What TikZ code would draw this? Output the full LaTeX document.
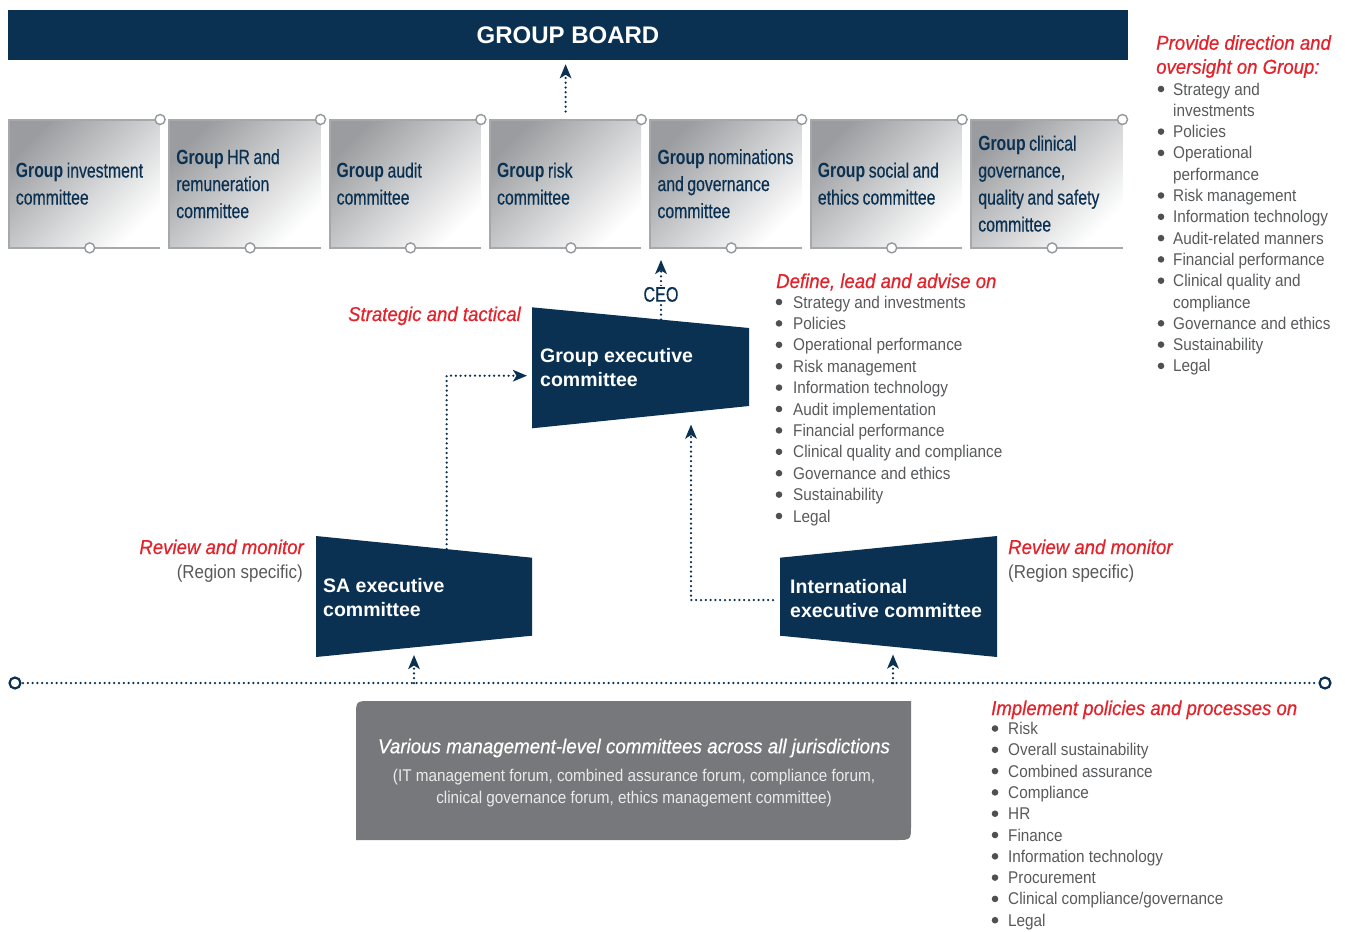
\documentclass[tikz,border=0pt]{standalone}
\usepackage{fontspec}
\setmainfont{Liberation Sans}
\newfontfamily\boxfont{Liberation Sans}[FakeStretch=0.77,WordSpace=0.8,UprightFeatures={FakeBold=0.4}]
\newfontfamily\listfont{Liberation Sans}[FakeStretch=0.9]
\newfontfamily\headfont{Liberation Sans}[FakeStretch=0.93,ItalicFeatures={FakeBold=0.6}]
\usetikzlibrary{arrows.meta,calc,positioning}
\definecolor{navy}{HTML}{0B3152}
\definecolor{crimson}{HTML}{E2232C}
\definecolor{slate}{HTML}{58595B}
\definecolor{boxgray}{HTML}{77787B}
\definecolor{fadegray}{HTML}{9A9C9F}
\definecolor{midgray}{HTML}{E2E3E4}
\definecolor{rimgray}{HTML}{A6A8AB}

\begin{document}
\begin{tikzpicture}[x=1pt,y=-1pt,
  comm/.style={anchor=north west,minimum width=151pt,minimum height=128pt,inner sep=0pt,top color=fadegray,middle color=midgray,bottom color=white,shading angle=45},
  commtext/.style={anchor=west,inner sep=0pt,align=left,text=navy,font=\boxfont\fontsize{20.5pt}{27pt}\selectfont},
  rim/.style={rimgray,line width=2pt},
  knob/.style={draw=rimgray!90!black,fill=white,line width=1.4pt},
  exec/.style={text=white,font=\bfseries\fontsize{19.5pt}{24pt}\selectfont,align=left,inner sep=0pt,anchor=west},
  flow/.style={navy,line width=2.5pt,dash pattern=on 0pt off 4.8pt,line cap=round,-{Stealth[length=14pt,width=11.5pt,inset=3.5pt]}},
  head/.style={text=crimson,font=\headfont\itshape\fontsize{20pt}{24pt}\selectfont,inner sep=0pt},
  region/.style={text=slate,font=\listfont\fontsize{18.8pt}{24pt}\selectfont,inner sep=0pt},
  listitem/.style={anchor=base west,inner sep=0pt,text=slate,font=\listfont\fontsize{17pt}{21pt}\selectfont},
  dot/.style={fill=slate!90!black}]
\useasboundingbox (0,0) rectangle (1345,932);

% board
\node[fill=navy,minimum width=1120pt,minimum height=50pt,text=white,font=\bfseries\fontsize{24pt}{24pt}\selectfont] (board) at (568,35) {GROUP BOARD};

% board committees
\foreach \t [count=\i from 0] in {{investment\\committee},{HR and\\remuneration\\committee},{audit\\committee},{risk\\committee},{nominations\\and governance\\committee},{social and\\ethics committee},{clinical\\governance,\\quality and safety\\committee}}{
  \node[comm] (c\i) at (8.7+160.4*\i,119.5) {};
  \node[commtext] (t\i) at ($(c\i.west)+(7,0)$) {\textbf{Group} \t};
  \draw[rim] (c\i.north east) -- (c\i.north west) -- (c\i.south west) -- (c\i.south east);
  \draw[knob] (c\i.north east) circle (5pt);
  \draw[knob] ($(c\i.south west)+(81,0)$) circle (5pt);
}
\draw[flow,shorten <=8pt,shorten >=4pt] (c3.north) -- (c3.north |- board.south);

% executive committees
\fill[navy] (532,307.3) -- (749,328) -- (749,406) -- (532,428.3) -- cycle;
\node[exec] (gx) at (540,368) {Group executive\\committee};
\fill[navy] (316,536) -- (532,557.7) -- (532,635.7) -- (316,657) -- cycle;
\node[exec] (sa) at (323,598) {SA executive\\committee};
\fill[navy] (780,557.7) -- (997,536) -- (997,657) -- (780,635.7) -- cycle;
\node[exec] (intl) at (790,599) {International\\executive committee};

\coordinate (gxtop) at (661,319.5);
\coordinate (gxleft) at (532,375.7);
\coordinate (gxbot) at (691,412.6);
\coordinate (satop) at (446.7,549);
\coordinate (sabot) at (414,647.5);
\coordinate (inleft) at (780,600);
\coordinate (inbot) at (893,647);

\draw[flow,shorten >=12pt] (gxtop) -- node[pos=0.35,fill=white,inner sep=1pt,text=navy,font=\boxfont\fontsize{21pt}{21pt}\selectfont] (ceo) {CEO} (gxtop |- c4.south);
\draw[flow,shorten >=5pt] (satop) |- (gxleft);
\draw[flow,shorten <=7pt,shorten >=12pt] (inleft) -| (gxbot);

% management line
\coordinate (lend) at (15,683);
\coordinate (rend) at (1325,683);
\coordinate (saroot) at (414,683);
\coordinate (inroot) at (893,683);
\draw[navy,line width=2.5pt,dash pattern=on 0pt off 4.8pt,line cap=round,shorten <=8pt,shorten >=8pt] (lend) -- (rend);
\draw[navy,line width=2.2pt,fill=white] (lend) circle (5.5pt) (rend) circle (5.5pt);
\draw[flow,shorten >=7.5pt] (saroot) -- (sabot);
\draw[flow,shorten >=7.5pt] (inroot) -- (inbot);

\fill[boxgray] (356,840) -- (356,716) .. controls (356,701) .. (371,701) -- (911,701) -- (911,825) .. controls (911,840) .. (896,840) -- cycle;
\node[text=white,font=\headfont\itshape\fontsize{20.2pt}{24pt}\selectfont] (mgmt) at (634,748) {Various management-level committees across all jurisdictions};
\node[align=center,text=black!8,font=\listfont\fontsize{17pt}{22pt}\selectfont] (forums) at (634,788) {(IT management forum, combined assurance forum, compliance forum,\\clinical governance forum, ethics management committee)};

% labels
\node[head,anchor=base east] (stratlbl) at (521,321) {Strategic and tactical};
\node[head,anchor=base east] (sarev) at (304,554) {Review and monitor};
\node[region,anchor=base east] (sareg) at (303,578) {(Region specific)};
\node[head,anchor=base west] (inrev) at (1008,554) {Review and monitor};
\node[region,anchor=base west] (inreg) at (1008,578) {(Region specific)};

% lists
\node[head,anchor=north west,align=left] (dirhead) at (1156,35) {Provide direction and\\oversight on Group:};
\foreach \b/\t [count=\i from 0] in {1/Strategy and,0/investments,1/Policies,1/Operational,0/performance,1/Risk management,1/Information technology,1/Audit-related manners,1/Financial performance,1/Clinical quality and,0/compliance,1/Governance and ethics,1/Sustainability,1/Legal}{
  \node[listitem] (dir\i) at (1173,95+21.3*\i) {\t};
  \ifnum\b=1 \fill[dot] ($(dir\i.base west)+(-12,-6)$) circle (3.3pt);\fi
}

\node[head,anchor=base west] (defhead) at (776,288) {Define, lead and advise on};
\foreach \t [count=\i from 0] in {Strategy and investments,Policies,Operational performance,Risk management,Information technology,Audit implementation,Financial performance,Clinical quality and compliance,Governance and ethics,Sustainability,Legal}{
  \node[listitem] (def\i) at (793,308+21.4*\i) {\t};
  \fill[dot] ($(def\i.base west)+(-14,-6)$) circle (3.3pt);
}

\node[head,anchor=base west] (imphead) at (991,715) {Implement policies and processes on};
\foreach \t [count=\i from 0] in {Risk,Overall sustainability,Combined assurance,Compliance,HR,Finance,Information technology,Procurement,Clinical compliance/governance,Legal}{
  \node[listitem] (imp\i) at (1008,734.5+21.3*\i) {\t};
  \fill[dot] ($(imp\i.base west)+(-13,-6)$) circle (3.3pt);
}
\end{tikzpicture}
\end{document}
